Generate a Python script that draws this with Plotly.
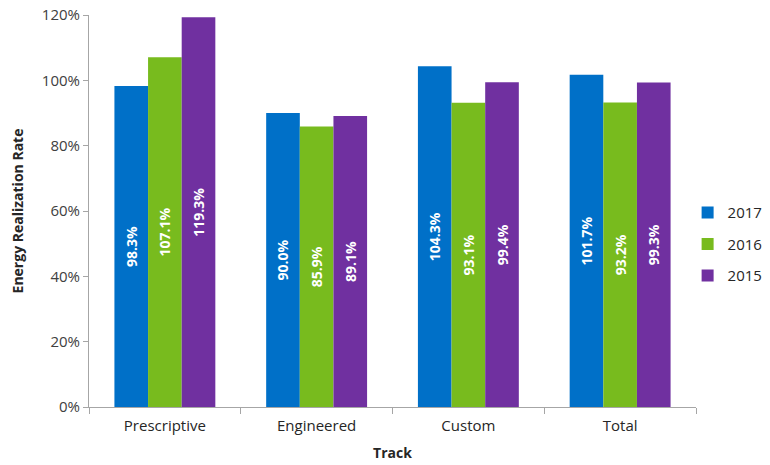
import plotly.graph_objects as go

tracks = ["Prescriptive", "Engineered", "Custom", "Total"]
years = ["2017", "2016", "2015"]
rr_2017 = [98.3, 90.0, 104.3, 101.7]
rr_2016 = [107.1, 85.9, 93.1, 93.2]
rr_2015 = [119.3, 89.1, 99.4, 99.3]
colors = ["#0070C8", "#78BB1E", "#7030A0"]

fig = go.Figure()
for name, vals, col in zip(years, [rr_2017, rr_2016, rr_2015], colors):
    fig.add_trace(go.Bar(
        x=tracks, y=[v / 100 for v in vals], name=name, legendgroup=name,
        marker=dict(color=col, line=dict(width=0)),
        text=[f"{v:.1f}%" for v in vals],
        textposition="inside", insidetextanchor="middle", textangle=-90,
        textfont=dict(color="white", size=14, family="Open Sans", weight="bold"),
        constraintext="none",
    ))

fig.update_layout(
    width=770, height=465,
    margin=dict(l=89, r=74, t=15, b=58, autoexpand=False),
    paper_bgcolor="white", plot_bgcolor="white",
    barmode="group", bargap=0.335, bargroupgap=0,
    font=dict(family="Open Sans", color="#404040", size=14),
    showlegend=True,
    legend=dict(xref="container", yref="container", x=0.893, y=0.475,
                xanchor="left", yanchor="middle",
                font=dict(size=15, color="#262626"), tracegroupgap=9,
                itemwidth=30),
    uniformtext=dict(minsize=13, mode="show"),
)
fig.update_xaxes(
    title=dict(text="<b>Track</b>", font=dict(size=14, color="#262626"), standoff=14),
    showline=True, linecolor="#A6A6A6", linewidth=1,
    ticks="outside", tickson="boundaries", ticklen=6, tickcolor="#A6A6A6",
    ticklabelstandoff=5,
    tickfont=dict(size=15, color="#262626"), showgrid=False,
)
fig.update_yaxes(
    title=dict(text="<b>Energy Realization Rate</b>", font=dict(size=14, color="#262626"), standoff=14),
    range=[0, 1.2], dtick=0.2, tickformat=".0%",
    showline=True, linecolor="#A6A6A6", linewidth=1,
    ticks="outside", ticklen=5, tickcolor="#A6A6A6",
    tickfont=dict(size=15, color="#404040"), showgrid=False, zeroline=False,
)

fig.write_html("out.html")
